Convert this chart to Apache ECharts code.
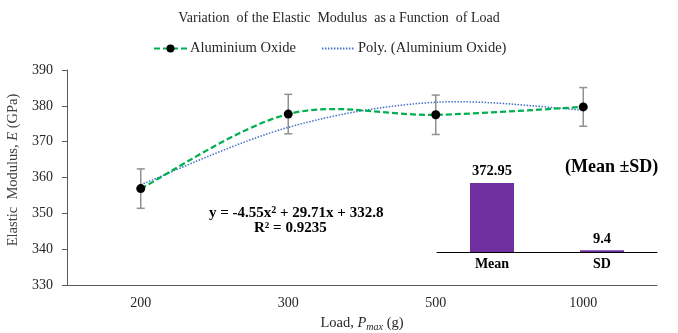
<!DOCTYPE html>
<html><head><meta charset="utf-8">
<script src="https://cdn.jsdelivr.net/npm/echarts@6/dist/echarts.min.js"></script>
<style>html,body{margin:0;padding:0;background:#fff}#c{width:678px;height:333px}</style>
</head><body><div id="c"></div>
<script>
const loads = ['200', '300', '500', '1000'];
const modulus = [356.9, 377.7, 377.5, 379.7];
const sdBars = [5.5, 5.5, 5.5, 5.4];
const polyTrend = [358.0, 374.0, 381.0, 378.8];
const summaryCats = ['Mean', 'SD'];
const summaryVals = [372.95, 9.4];
const yMin = 330, yMax = 390, yStep = 10;

const serif = 'Liberation Serif';
const chart = echarts.init(document.getElementById('c'));
const errData = loads.map((c, i) => [i, modulus[i] - sdBars[i], modulus[i] + sdBars[i]]);

// Smooth (Catmull-Rom style) path through the values, positioned via the axis scale
function smoothPath(api, vals) {
  const pts = vals.map((v, i) => api.coord([i, v]));
  const n = pts.length;
  let d = 'M' + pts[0][0] + ',' + pts[0][1];
  for (let i = 0; i < n - 1; i++) {
    const p0 = pts[Math.max(i - 1, 0)], p1 = pts[i], p2 = pts[i + 1], p3 = pts[Math.min(i + 2, n - 1)];
    const c1x = p1[0] + (p2[0] - p0[0]) / 6, c1y = p1[1] + (p2[1] - p0[1]) / 6;
    const c2x = p2[0] - (p3[0] - p1[0]) / 6, c2y = p2[1] - (p3[1] - p1[1]) / 6;
    d += 'C' + c1x + ',' + c1y + ',' + c2x + ',' + c2y + ',' + p2[0] + ',' + p2[1];
  }
  return d;
}
function curveSeries(vals, stroke, width, dash, z) {
  return {
    type: 'custom', xAxisIndex: 0, yAxisIndex: 0, z: z, silent: true,
    data: [0],
    renderItem: function (params, api) {
      return {
        type: 'path', shape: { pathData: smoothPath(api, vals) },
        style: { fill: 'none', stroke: stroke, lineWidth: width, lineDash: dash }
      };
    }
  };
}

chart.setOption({
  animation: false,
  backgroundColor: '#fff',
  textStyle: { fontFamily: serif },
  title: {
    text: 'Variation  of the Elastic  Modulus  as a Function  of Load',
    left: 'center', top: 6,
    textStyle: { fontFamily: serif, fontSize: 14, fontWeight: 'normal', color: '#262626' }
  },
  legend: {
    top: 36, left: 148, itemWidth: 33, itemHeight: 10, itemGap: 25,
    textStyle: { fontFamily: serif, fontSize: 14.5, color: '#262626', padding: [0, 0, 0, -2] },
    data: [
      { name: 'Aluminium Oxide', lineStyle: { opacity: 1 } },
      { name: 'Poly. (Aluminium Oxide)', itemStyle: { opacity: 0 }, lineStyle: { opacity: 1 } }
    ]
  },
  grid: [
    { left: 67, right: 21, top: 70, bottom: 48, containLabel: false, outerBoundsMode: 'none' },
    { left: 437, right: 21, top: 178, height: 74, containLabel: false, outerBoundsMode: 'none' }
  ],
  xAxis: [{
    type: 'category', data: loads, gridIndex: 0, boundaryGap: true,
    axisLine: { lineStyle: { color: '#595959', width: 1 } },
    axisTick: { alignWithLabel: true, length: 4, lineStyle: { color: '#595959' } },
    axisLabel: { fontFamily: serif, fontSize: 14, color: '#262626', margin: 11 },
    name: 'Load, {i|P}{sub|max} (g)', nameLocation: 'middle', nameGap: 30,
    nameTextStyle: {
      fontFamily: serif, fontSize: 14.5, color: '#262626',
      rich: {
        i: { fontFamily: serif, fontSize: 14.5, fontStyle: 'italic', color: '#262626' },
        sub: { fontFamily: serif, fontSize: 10, fontStyle: 'italic', color: '#262626', verticalAlign: 'bottom', padding: [7, 0, 0, 0] }
      }
    }
  }, {
    type: 'category', data: summaryCats, gridIndex: 1,
    axisLine: { lineStyle: { color: '#000', width: 1 } },
    axisTick: { show: false },
    axisLabel: { fontFamily: serif, fontSize: 14, fontWeight: 'bold', color: '#000', margin: 5 }
  }],
  yAxis: [{
    type: 'value', gridIndex: 0, min: yMin, max: yMax, interval: yStep,
    splitLine: { show: false },
    axisLine: { show: true, lineStyle: { color: '#595959', width: 1 } },
    axisTick: { show: true, length: 5, lineStyle: { color: '#595959' } },
    axisLabel: { fontFamily: serif, fontSize: 14, color: '#262626', margin: 14 },
    name: 'Elastic  Modulus, {i|E} (GPa)', nameLocation: 'middle', nameRotate: 90, nameGap: 46,
    nameTextStyle: {
      fontFamily: serif, fontSize: 14.5, color: '#404040', padding: [0, 0, 0, 15],
      rich: { i: { fontFamily: serif, fontSize: 14.5, fontStyle: 'italic', color: '#404040' } }
    }
  }, {
    type: 'value', gridIndex: 1, min: 0, max: 400, show: false
  }],
  series: [
    {
      type: 'custom', name: 'err', xAxisIndex: 0, yAxisIndex: 0, z: 1, silent: true,
      data: errData,
      renderItem: function (params, api) {
        const x = api.value(0);
        const lo = api.coord([x, api.value(1)]);
        const hi = api.coord([x, api.value(2)]);
        const cw = 4;
        const st = { stroke: '#909090', lineWidth: 1.5 };
        return {
          type: 'group', children: [
            { type: 'line', shape: { x1: lo[0], y1: lo[1], x2: hi[0], y2: hi[1] }, style: st },
            { type: 'line', shape: { x1: lo[0] - cw, y1: lo[1], x2: lo[0] + cw, y2: lo[1] }, style: st },
            { type: 'line', shape: { x1: hi[0] - cw, y1: hi[1], x2: hi[0] + cw, y2: hi[1] }, style: st }
          ]
        };
      }
    },
    curveSeries(polyTrend, '#4472C4', 1.5, [1.5, 1.5], 2),
    curveSeries(modulus, '#00B050', 2.25, [6, 3], 3),
    {
      type: 'line', name: 'Poly. (Aluminium Oxide)', data: polyTrend,
      symbol: 'none', z: 2,
      lineStyle: { color: '#4472C4', width: 1.5, type: [1.5, 1.5], opacity: 0 },
      itemStyle: { color: '#4472C4' }
    },
    {
      type: 'line', name: 'Aluminium Oxide', data: modulus, z: 4,
      symbol: 'circle', symbolSize: 9,
      lineStyle: { color: '#00B050', width: 2.25, type: [6, 3], opacity: 0 },
      itemStyle: { color: '#000' }
    },
    {
      type: 'bar', xAxisIndex: 1, yAxisIndex: 1, data: summaryVals, barWidth: 44,
      itemStyle: { color: '#7030A0' },
      label: { show: true, position: 'top', distance: 4, fontFamily: serif, fontSize: 14.5, fontWeight: 'bold', color: '#000' }
    }
  ],
  graphic: [
    {
      type: 'text', left: 209, top: 205,
      style: {
        text: 'y = -4.55x{sup|2} + 29.71x + 332.8',
        font: 'bold 15px "Liberation Serif"', fill: '#000',
        rich: { sup: { font: 'bold 10px "Liberation Serif"', fill: '#000', verticalAlign: 'top', padding: [0, 0, 6, 0] } }
      }
    },
    {
      type: 'text', left: 254, top: 221,
      style: { text: 'R² = 0.9235', font: 'bold 15px "Liberation Serif"', fill: '#000' }
    },
    {
      type: 'text', left: 565, top: 158,
      style: { text: '(Mean ±SD)', font: 'bold 18px "Liberation Serif"', fill: '#000' }
    }
  ]
});
</script></body></html>
